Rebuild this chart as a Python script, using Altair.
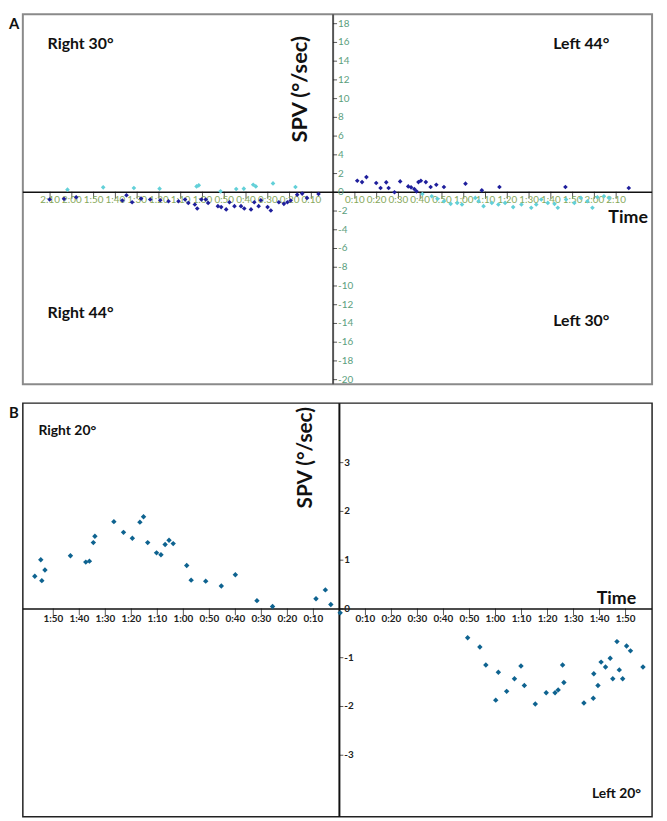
import altair as alt
import pandas as pd

# ---------------- Panel A (seconds; negative = right-side recordings) ----------------
a_r44_t = [-130.2,-123.6,-118,-96.8,-94.9,-92.3,-88.2,-84,-79.4,-75.6,-71,-68,-66.5,-63.5,-62.4,-60.5,-58.5,-57.4,-52.9,-51.4,-49.1,-47.6,-45.3,-42.3,-40.8,-37.7,-36.2,-34.2,-33.2,-30.1,-28.6,-24.9,-22.6,-21,-19.5,-16.5,-14.2,-12,-6.7]
a_r44_v = [-0.77,-0.70,-0.53,-0.88,-0.32,-1.06,-0.67,-0.77,-0.85,-0.95,-0.95,-0.77,-1.13,-1.3,-1.73,-0.77,-0.77,-1.13,-1.48,-1.58,-1.83,-1.06,-1.48,-1.48,-1.73,-1.83,-1.06,-1.48,-0.85,-1.58,-1.94,-1.06,-1.23,-1.06,-0.88,-0.25,-0.14,-0.6,-0.18]
a_r30_t = [-122,-105.6,-91.5,-79.7,-62.7,-61.7,-51.7,-44.5,-41,-36.7,-35.5,-27.6,-17.3]
a_r30_v = [0.28,0.53,0.46,0.39,0.63,0.74,0.1,0.35,0.39,0.81,0.63,0.95,0.56]
a_l44_t = [11.1,13.3,15.3,19.8,21.8,24.4,25.5,28.2,30.8,34.5,35.8,37.3,38.3,39.2,40.3,42.6,44.8,47.4,50.9,60.8,68.3,76.4,106.7,135.8]
a_l44_v = [1.23,1.09,1.62,0.99,0.46,1.06,0.46,0.0,1.16,0.63,0.53,0.35,0.1,1.09,1.23,1.09,0.56,0.81,0.56,0.92,0.21,0.56,0.56,0.46]
a_l30_t = [41,45.3,47.9,50.9,54,57,59.2,65.3,66.8,69.1,72.9,75.9,79,82.7,86.5,91,93.3,95.6,98.6,101.7,103.2,107,110.8,113.8,116.8,119.1,121.4,124.4,126.7]
a_l30_v = [-0.18,-0.42,-0.7,-0.95,-1.23,-1.13,-1.3,-0.6,-0.95,-1.48,-1.13,-1.3,-1.13,-1.58,-1.3,-1.65,-1.3,-0.77,-1.13,-1.23,-1.65,-0.77,-1.13,-0.6,-0.95,-1.65,-0.53,-0.42,-0.6]
a_x_ticks = [10,20,30,40,50,60,70,80,90,100,110,120,130]
a_y_ticks = [-20,-18,-16,-14,-12,-10,-8,-6,-4,-2,0,2,4,6,8,10,12,14,16,18]
a_series = ["Right 44°", "Right 30°", "Left 44°", "Left 30°"]
a_colors = ["#1f1f9c", "#62d0d8", "#1f1f9c", "#62d0d8"]
a_notes = ["Right 30°", "Left 44°", "Right 44°", "Left 30°"]
a_notes_t = [-116, 114, -116, 114]
a_notes_v = [15.8, 15.8, -12.9, -13.7]

# ---------------- Panel B ----------------
b_r20_t = [-117.1,-114.8,-114.4,-113.2,-103.4,-97.5,-96.1,-94.6,-94.0,-86.7,-83.0,-79.6,-76.7,-75.3,-73.7,-70.3,-68.6,-67.0,-65.5,-63.9,-58.7,-57.0,-51.4,-45.4,-40.0,-31.7,-25.7,-9.0,-5.4,-3.3]
b_r20_v = [0.67,1.01,0.58,0.80,1.09,0.96,0.98,1.36,1.49,1.79,1.57,1.45,1.78,1.89,1.36,1.15,1.11,1.32,1.41,1.34,0.89,0.59,0.57,0.47,0.70,0.17,0.05,0.21,0.39,0.09]
b_l20_t = [0.3,49.3,54.0,56.3,60.1,61.1,64.3,67.3,69.8,71.1,75.3,79.5,82.9,84.1,85.8,86.3,94.0,97.6,99.4,97.8,100.6,102.3,104.1,105.1,106.7,107.6,108.9,110.4,111.9,116.7]
b_l20_v = [-0.08,-0.59,-0.78,-1.15,-1.87,-1.30,-1.69,-1.43,-1.17,-1.57,-1.95,-1.72,-1.72,-1.66,-1.15,-1.51,-1.93,-1.83,-1.57,-1.33,-1.09,-1.19,-1.01,-1.43,-0.67,-1.25,-1.43,-0.76,-0.86,-1.19]
b_x_ticks = [10,20,30,40,50,60,70,80,90,100,110]
b_y_ticks = [-3,-2,-1,0,1,2,3]
b_series = ["Right 20°", "Left 20°"]
b_colors = ["#0e6390", "#0e6390"]
b_notes = ["Right 20°", "Left 20°"]
b_notes_t = [-104.6, 106.5]
b_notes_v = [3.65, -3.79]

FONT = "Lato"


def fmt(s):
    s = abs(int(round(s)))
    return f"{s // 60}:{s % 60:02d}"


def panel(points, color_domain, color_range, x_dom, y_dom, w, h, x_ticks, y_ticks,
          xlab_color, ylab_color, lab_bold, lab_size, xlab_dy, notes, notes_t, notes_v,
          note_size, time_t, time_v, spv_t, spv_v, spv_size, letter, axis_color,
          axis_width, point_size, frame_color, frame_width):
    X = lambda f: alt.X(f, type="quantitative", scale=alt.Scale(domain=x_dom, nice=False, zero=False), axis=None)
    Y = lambda f: alt.Y(f, type="quantitative", scale=alt.Scale(domain=y_dom, nice=False, zero=False), axis=None)
    zero = pd.DataFrame({"z": [0]})
    vrule = alt.Chart(zero).mark_rule(color=axis_color, strokeWidth=axis_width).encode(x=X("z"))
    hrule = alt.Chart(zero).mark_rule(color="#111111", strokeWidth=1.5).encode(y=Y("z"))

    xt = pd.DataFrame({"t": [-t for t in x_ticks] + list(x_ticks), "z": 0})
    xt["lab"] = [fmt(t) for t in xt["t"]]
    xtick = alt.Chart(xt).mark_tick(orient="vertical", size=7, thickness=1, color="#111111", yOffset=3).encode(x=X("t"), y=Y("z"))
    xlab = alt.Chart(xt).mark_text(font=FONT, fontSize=lab_size, fontWeight="bold" if lab_bold else "normal",
                                   color=xlab_color, dy=xlab_dy).encode(x=X("t"), y=Y("z"), text="lab:N")

    yt = pd.DataFrame({"v": list(y_ticks), "z": 0})
    yt["lab"] = [str(v) for v in y_ticks]
    ytick = alt.Chart(yt).mark_tick(orient="horizontal", size=4, thickness=1, color="#111111", xOffset=2).encode(x=X("z"), y=Y("v"))
    ylab = alt.Chart(yt).mark_text(font=FONT, fontSize=lab_size, fontWeight="bold" if lab_bold else "normal",
                                   color=ylab_color, align="left", dx=5).encode(x=X("z"), y=Y("v"), text="lab:N")

    pts = alt.Chart(points).mark_point(shape="diamond", filled=True, opacity=1, size=point_size).encode(
        x=X("t"), y=Y("v"),
        color=alt.Color("s:N", scale=alt.Scale(domain=color_domain, range=color_range), legend=None))

    nt = pd.DataFrame({"t": notes_t, "v": notes_v, "lab": notes})
    notes_l = alt.Chart(nt).mark_text(font=FONT, fontSize=note_size, fontWeight="bold", color="#111111").encode(
        x=X("t"), y=Y("v"), text="lab:N")
    tm = pd.DataFrame({"t": [time_t], "v": [time_v], "lab": ["Time"]})
    time_l = alt.Chart(tm).mark_text(font=FONT, fontSize=18, fontWeight="bold", color="#111111").encode(
        x=X("t"), y=Y("v"), text="lab:N")
    sp = pd.DataFrame({"t": [spv_t], "v": [spv_v], "lab": ["SPV (°/sec)"]})
    spv_l = alt.Chart(sp).mark_text(font=FONT, fontSize=spv_size, fontWeight="bold", angle=270, color="#111111").encode(
        x=X("t"), y=Y("v"), text="lab:N")
    lt = pd.DataFrame({"lab": [letter]})
    letter_l = alt.Chart(lt).mark_text(font=FONT, fontSize=15, fontWeight="bold", align="left", baseline="top",
                                       color="#111111").encode(x=alt.value(-14), y=alt.value(3), text="lab:N")

    return alt.layer(vrule, hrule, xtick, xlab, ytick, ylab, pts, notes_l, time_l, spv_l, letter_l).properties(
        width=w, height=h, view=alt.ViewBackground(stroke=frame_color, strokeWidth=frame_width))


a_pts = pd.concat([
    pd.DataFrame({"t": a_r44_t, "v": a_r44_v, "s": a_series[0]}),
    pd.DataFrame({"t": a_r30_t, "v": a_r30_v, "s": a_series[1]}),
    pd.DataFrame({"t": a_l44_t, "v": a_l44_v, "s": a_series[2]}),
    pd.DataFrame({"t": a_l30_t, "v": a_l30_v, "s": a_series[3]}),
])
b_pts = pd.concat([
    pd.DataFrame({"t": b_r20_t, "v": b_r20_v, "s": b_series[0]}),
    pd.DataFrame({"t": b_l20_t, "v": b_l20_v, "s": b_series[1]}),
])

panel_a = panel(a_pts, a_series, a_colors, [-142.5, 146.5], [-20.5, 19.0], 636, 374,
                a_x_ticks, a_y_ticks, "#86a85a", "#5a9e7c", False, 10, 8,
                a_notes, a_notes_t, a_notes_v, 16, 135.5, -2.7, -15, 11.0, 22, "A",
                "#555555", 2, 22, "#8a8a8a", 2)
panel_b = panel(b_pts, b_series, b_colors, [-121.7, 120.2], [-4.26, 4.22], 636, 418,
                b_x_ticks, b_y_ticks, "#222222", "#222222", True, 10, 10,
                b_notes, b_notes_t, b_notes_v, 14, 106.5, 0.2, -12.9, 3.1, 21, "B",
                "#111111", 2, 30, "#222222", 1.5)

chart = alt.vconcat(panel_a, panel_b, spacing=15).resolve_scale(
    color="independent", x="independent", y="independent"
).properties(
    padding={"left": 0, "top": 0, "right": 5, "bottom": 0}
).configure(background="white")

chart.save("out.html", embed_options={"renderer": "svg", "actions": False})
